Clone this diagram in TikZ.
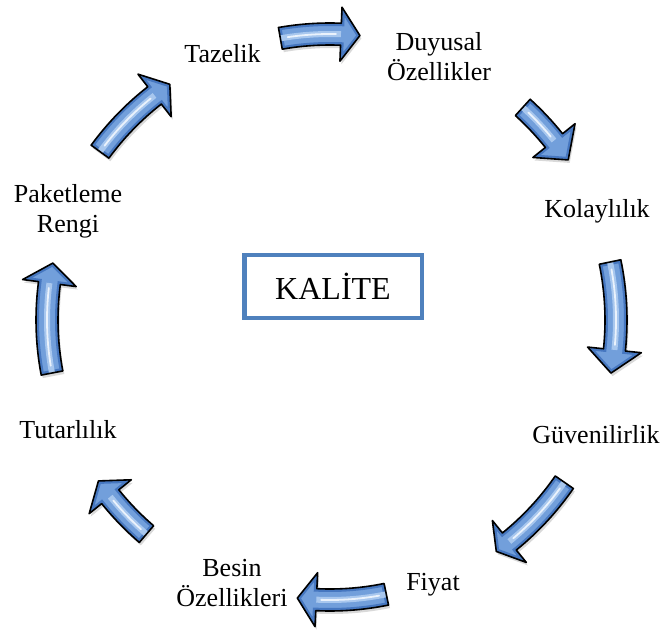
\documentclass[tikz,border=0pt]{standalone}
\usepackage{fontspec}
\setmainfont{Liberation Serif}
\usetikzlibrary{positioning}
\definecolor{boxblue}{HTML}{4F81BD}
\definecolor{arrdark}{HTML}{4677C0}
\definecolor{arrmid}{HTML}{729FDB}
\definecolor{arrlight}{HTML}{A8C7EE}
\definecolor{arrhi}{HTML}{EAF2FC}

% curved block arrow: tail angle, head base angle, tip angle, radius
\newcommand\arrowpath[4]{(#1:#4+11) arc[start angle=#1,end angle=#2,radius=#4+11]
  -- (#2:#4+27) -- (#3:#4) -- (#2:#4-27) -- (#2:#4-11)
  arc[start angle=#2,end angle=#1,radius=#4-11] -- cycle}

\begin{document}
\begin{tikzpicture}[x=1pt,y=1pt,
  lbl/.style={font=\fontsize{26}{30}\selectfont,inner sep=0pt,align=center},
  ttl/.style={draw=boxblue,line width=4.5pt,minimum width=177.5pt,minimum height=62.5pt,inner sep=0pt,
              font=\fontsize{32}{36}\selectfont}]
  \useasboundingbox (0,0) rectangle (666,630);
  \node[ttl] (kalite) at (333,343.5) {KALİTE};

  \node[lbl,anchor=base] (tazelik) at (222.5,567) {Tazelik};
  \node[lbl] (duyusal) at (439,573) {Duyusal\\Özellikler};
  \node[lbl,anchor=base] (kolay) at (597,412) {Kolaylılık};
  \node[lbl,anchor=base] (guven) at (596,187) {Güvenilirlik};
  \node[lbl,anchor=base] (fiyat) at (433,40) {Fiyat};
  \node[lbl] (besin) at (232,47) {Besin\\Özellikleri};
  \node[lbl,anchor=base] (tutar) at (68,192) {Tutarlılık};
  \node[lbl] (paket) at (68,419) {Paketleme\\Rengi};

  % cycle arrows round the centre
  \begin{scope}[shift={(330,310)}]
    \foreach \t/\b/\p/\r in {100/87.8/84/286, 47.8/38.7/33.9/287, 11.7/-6/-10.7/286,
        -34.7/-51/-54.3/285, -78.4/-92.8/-96.7/280, -130.6/-141.2/-145.2/282,
        -169.2/-187.5/-191.6/283, -216.2/-232/-235.8/285}{
      \fill[black,opacity=.15,shift={(1.5,-3)}] \arrowpath{\t}{\b}{\p}{\r};
      \begin{scope}
        \clip \arrowpath{\t}{\b}{\p}{\r};
        \fill[arrmid] \arrowpath{\t}{\b}{\p}{\r};
        \draw[arrdark,line width=6pt] \arrowpath{\t}{\b}{\p}{\r};
        \draw[arrlight,line width=6pt] (\t:\r) arc[start angle=\t,end angle=\b,radius=\r];
        \draw[arrhi,line width=1.8pt,line cap=round] (\t-1.5:\r) arc[start angle=\t-1.5,end angle=\b+1,radius=\r];
      \end{scope}
      \draw[black,line width=1.6pt,line join=round] \arrowpath{\t}{\b}{\p}{\r};
    }
  \end{scope}
\end{tikzpicture}
\end{document}
